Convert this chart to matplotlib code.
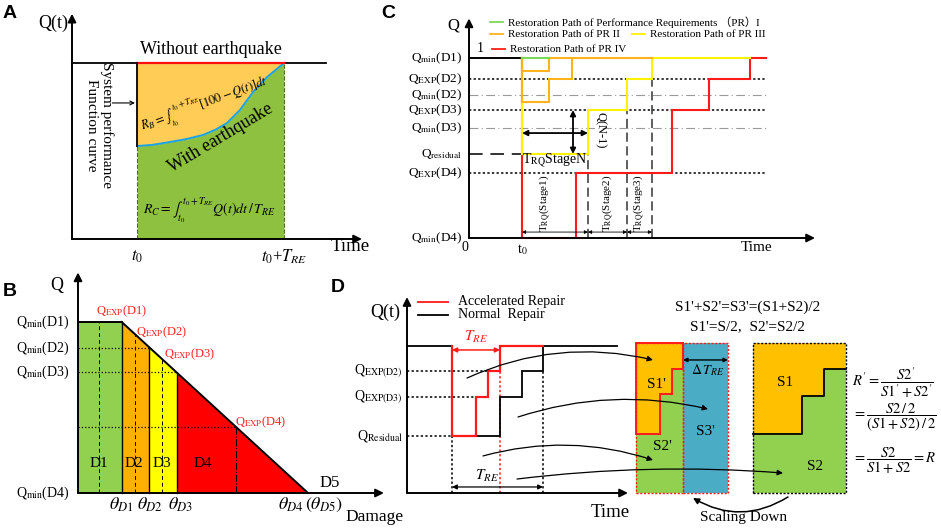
import numpy as np
import matplotlib
matplotlib.use("Agg")
import matplotlib.pyplot as plt

plt.rcParams['font.family'] = ['Liberation Serif', 'Noto Sans CJK SC', 'DejaVu Sans']
plt.rcParams['mathtext.fontset'] = 'stix'

W, H = 941, 528

# ---------------- data ----------------
# panel A: performance curve after the earthquake (Q in %)
A_t = [0.307, 0.38, 0.462, 0.54, 0.618, 0.68, 0.731, 0.792, 0.854, 0.92, 1.0]
A_q = [52.8, 53.5, 55.1, 56.8, 59.1, 62.3, 65.9, 73.3, 83.5, 92.0, 100.0]
A_t0, A_tend = 0.307, 1.0

# panel B: damage states
B_theta = [0.19, 0.31, 0.43, 1.0]          # theta_D1 .. theta_D4
B_qmin = [1.0, 0.848, 0.708, 0.0]          # Qmin(D1) .. Qmin(D4)
B_qexp_d4 = 0.386
B_mid = [0.091, 0.248, 0.365]
B_labels = ['D1', 'D2', 'D3', 'D4']
B_label_x = [0.091, 0.243, 0.365, 0.543]
B_colors = ['#92D050', '#FFB000', '#FFFF00', '#FF0000']

# panel C: restoration paths
C_levels = [1.0, 0.883, 0.794, 0.711, 0.611, 0.467, 0.361, 0.0]
C_names = [r'Q$_{\mathrm{min}}$(D1)', r'Q$_{\mathrm{EXP}}$(D2)', r'Q$_{\mathrm{min}}$(D2)',
           r'Q$_{\mathrm{EXP}}$(D3)', r'Q$_{\mathrm{min}}$(D3)', r'Q$_{\mathrm{residual}}$',
           r'Q$_{\mathrm{EXP}}$(D4)', r'Q$_{\mathrm{min}}$(D4)']
C_t0, C_end = 5.3, 29.7
C_stage = [5.3, 11.9, 15.8, 18.3]
red_edges = [5.3, 10.7, 20.3, 24.0, 28.1, 29.7]
red_vals = [0.0, 0.361, 0.711, 0.883, 1.0]
yel_edges = [5.3, 11.9, 15.8, 18.3, 28.1]
yel_vals = [0.467, 0.711, 0.883, 1.0]
org_a_edges = [5.3, 8.0, 10.3]
org_a_vals = [0.928, 1.0]
org_b_edges = [5.3, 8.0, 10.3, 18.3]
org_b_vals = [0.756, 0.883, 1.0]
grn_edges = [5.3, 8.0]
grn_vals = [1.0]

# panel D: accelerated vs normal repair
D_levels = [0.83, 0.653, 0.388]
D_names = [r'Q$_{\mathrm{EXP(D2)}}$', r'Q$_{\mathrm{EXP(D3)}}$', r'Q$_{\mathrm{Residual}}$']
norm_edges = [0, 4.5, 9.3, 11.5, 13.6, 21.0]
norm_vals = [1.0, 0.388, 0.653, 0.83, 1.0]
acc_edges = [4.5, 6.9, 8.1, 9.3, 13.6]
acc_vals = [0.388, 0.653, 0.83, 1.0]
box_l = [22.9, 27.6, 32.1]
box_r = [34.6, 43.9]
box_top = 1.02
s1p_x = [22.9, 27.6, 27.6, 26.5, 26.5, 25.3, 25.3, 22.9]
s1p_y = [1.02, 1.02, 0.844, 0.844, 0.673, 0.673, 0.401, 0.401]
s1_x = [34.6, 43.9, 43.9, 41.7, 41.7, 39.5, 39.5, 34.6]
s1_y = [1.02, 1.02, 0.844, 0.844, 0.662, 0.662, 0.401, 0.401]

fig = plt.figure(figsize=(W / 100, H / 100), dpi=100)


def panel_axes(px0, px1, py_bot, py_top, xlim, ylim):
    ax = fig.add_axes([px0 / W, 1 - py_bot / H, (px1 - px0) / W, (py_bot - py_top) / H])
    ax.set_xlim(*xlim)
    ax.set_ylim(*ylim)
    ax.axis('off')
    return ax


def arrow(ax, x0, y0, x1, y1, style='-|>', lw=1.4, ms=12, color='k', rad=0.0):
    ax.annotate('', xy=(x1, y1), xytext=(x0, y0), annotation_clip=False,
                arrowprops=dict(arrowstyle=style, color=color, lw=lw, mutation_scale=ms,
                                shrinkA=0, shrinkB=0, connectionstyle=f'arc3,rad={rad}'))


def step_path(ax, edges, vals, start, color, lw=1.5):
    xs, ys = [edges[0]], [start]
    for i, v in enumerate(vals):
        xs += [edges[i], edges[i + 1]]
        ys += [v, v]
    ax.plot(xs, ys, color=color, lw=lw, solid_joinstyle='miter')


# ---------------- panel A ----------------
axA = panel_axes(72, 284, 239, 63, (0, 1), (0, 100))
axA.fill_between(A_t, A_q, 100, color='#FFCC55', lw=0)
axA.fill_between(A_t, 0, A_q, color='#8DC13F', lw=0)
axA.plot(A_t, A_q, color='#1AA3E8', lw=1.4)
axA.plot([0, 1.198], [100, 100], color='k', lw=1.3)
axA.plot([A_t0, A_tend], [100, 100], color='#FF1010', lw=1.6)
axA.plot([A_t0, A_t0], [A_q[0], 100], color='k', lw=1.3)
axA.plot([A_t0, A_t0], [0, A_q[0]], color='#4F6B2A', lw=0.8, ls='--')
axA.plot([A_tend, A_tend], [0, 100], color='#4F6B2A', lw=0.8, ls='--')
arrow(axA, 0, 0, 0, 128)
arrow(axA, 0, 0, 1.368, 0)
axA.text(-0.09, 122.7, 'Q(t)', fontsize=13, ha='center', va='center')
axA.text(0.656, 107.4, 'Without earthquake', fontsize=13, ha='center', va='center')
axA.text(0.13, 64.8, 'System performance\nFunction curve', fontsize=11, rotation=270,
         ha='center', va='center', multialignment='center', linespacing=1.15)
arrow(axA, 0.19, 77.3, 0.297, 77.3, style='->', lw=0.8, ms=7)
axA.text(0.625, 76.5, r'$R_B=\int_{t_0}^{t_0+T_{RE}}[100-Q(t)]dt$', fontsize=9,
         rotation=20, ha='center', va='center')
axA.text(0.703, 57.4, 'With earthquake', fontsize=13, rotation=31, ha='center', va='center')
axA.text(0.646, 16.5, r'$R_C=\int_{t_0}^{t_0+T_{RE}}Q(t)dt\,/\,T_{RE}$', fontsize=10,
         ha='center', va='center')
axA.text(A_t0, -10, r'$t_0$', fontsize=12, ha='center', va='center')
axA.text(A_tend, -10, r'$t_0$+$T_{RE}$', fontsize=12, ha='center', va='center')
axA.text(1.311, -4.5, 'Time', fontsize=13.5, ha='center', va='center')

# ---------------- panel B ----------------
axB = panel_axes(78, 308, 493, 322, (0, 1), (0, 1))
line_x = [B_theta[0], B_theta[3]]
line_y = [1.0, 0.0]
axB.fill_between([0, B_theta[0]], 0, 1, color=B_colors[0], lw=0)
for i in range(1, 4):
    xs = [B_theta[i - 1], B_theta[i]]
    ys = np.interp(xs, line_x, line_y)
    axB.fill_between(xs, 0, ys, color=B_colors[i], lw=0)
for i in range(3):
    top = np.interp(B_theta[i], line_x, line_y)
    axB.plot([B_theta[i], B_theta[i]], [0, top], color='k', lw=1.0)
axB.plot([0, B_theta[0]], [1, 1], color='k', lw=1.4)
axB.plot(line_x, line_y, color='k', lw=1.4)
axB.plot([0, B_theta[1]], [B_qmin[1]] * 2, color='k', lw=0.9, ls=':')
axB.plot([0, B_theta[2]], [B_qmin[2]] * 2, color='k', lw=0.9, ls=':')
x_d4 = np.interp(B_qexp_d4, line_y[::-1], line_x[::-1])
axB.plot([0, x_d4], [B_qexp_d4] * 2, color='k', lw=0.9, ls=':')
for xm in B_mid:
    axB.plot([xm, xm], [0, np.interp(xm, line_x, line_y)], color='k', lw=0.7, ls=(0, (4, 3)))
axB.plot([x_d4, x_d4], [0, B_qexp_d4], color='k', lw=0.8, ls='-.')
arrow(axB, 0, 0, 0, 1.29)
arrow(axB, 0, 0, 1.33, 0)
for lab, lx in zip(B_labels, B_label_x):
    axB.text(lx, 0.175, lab, fontsize=11, ha='center', va='center')
axB.text(1.096, 0.058, 'D5', fontsize=12, ha='center', va='center')
for q, i in zip(B_qmin, range(4)):
    axB.text(-0.035, q, r'Q$_{\mathrm{min}}$(D%d)' % (i + 1), fontsize=10, ha='right', va='center')
axB.text(-0.091, 1.216, 'Q', fontsize=13, ha='center', va='center')
for lab, lx in zip(['D1', 'D2', 'D3'], [0.187, 0.313, 0.448]):
    axB.text(lx, -0.07, r'$\theta_{%s}$' % lab, fontsize=13, ha='center', va='center')
axB.text(1.009, -0.07, r'$\theta_{D4}\,(\theta_{D5})$', fontsize=13, ha='center', va='center')
axB.text(1.291, -0.14, 'Damage', fontsize=12.5, ha='center', va='center')
for lab, lx, ly in zip(['D1', 'D2', 'D3', 'D4'], [0.19, 0.365, 0.487, 0.796],
                       [1.06, 0.94, 0.81, 0.415]):
    axB.text(lx, ly, r'Q$_{\mathrm{EXP}}$(%s)' % lab, fontsize=9, color='#FF2020',
             ha='center', va='center')

# ---------------- panel C ----------------
axC = panel_axes(469, 769, 238, 58, (0, 30), (0, 1))
for lv in [C_levels[1], C_levels[3], C_levels[6]]:
    axC.plot([0, C_end], [lv, lv], color='k', lw=1.1, ls=(0, (1.5, 1.5)))
for lv in [C_levels[2], C_levels[4]]:
    axC.plot([0, C_end], [lv, lv], color='#9A9A9A', lw=0.8, ls=(0, (8, 3, 1, 3)))
axC.plot([0, C_t0], [1, 1], color='k', lw=1.4)
axC.plot([0, C_t0], [C_levels[5]] * 2, color='#333333', lw=1.4, ls=(0, (7, 4)))
for xs, top in zip(C_stage[1:], [C_levels[5], C_levels[3], C_levels[1]]):
    axC.plot([xs, xs], [0, top], color='#333333', lw=1.1, ls=(0, (6, 3)))
step_path(axC, red_edges, red_vals, 1.0, '#FF1A1A')
step_path(axC, yel_edges, yel_vals, 1.0, '#FFF200')
step_path(axC, org_a_edges, org_a_vals, 1.0, '#FFB21A')
step_path(axC, org_b_edges, org_b_vals, 1.0, '#FFB21A')
step_path(axC, grn_edges, grn_vals, 1.0, '#7ED957')
arrow(axC, 0, 0, 0, 1.22)
arrow(axC, 0, 0, 34.6, 0)
arrow(axC, C_t0, 0.583, C_stage[1], 0.583, style='<|-|>', lw=1.3, ms=8)
arrow(axC, 10.4, C_levels[3], 10.4, C_levels[5], style='<|-|>', lw=1.3, ms=8)
axC.text(13.1, 0.6, 'Q(N-1)', fontsize=9, rotation=270, ha='center', va='center')
axC.text(8.6, 0.428, r'T$_{\mathrm{RQ}}$StageN', fontsize=10, ha='center', va='center')
for i in range(3):
    arrow(axC, C_stage[i], 0.033, C_stage[i + 1], 0.033, style='<|-|>', lw=0.6, ms=5)
for xs, i in zip([7.6, 13.9, 17.0], range(3)):
    axC.text(xs, 0.195, r'T$_{\mathrm{RQ}}$(Stage%d)' % (i + 1), fontsize=8, rotation=90,
             ha='center', va='center')
axC.text(1.1, 1.055, '1', fontsize=10, ha='center', va='center')
for lv, nm in zip(C_levels, C_names):
    axC.text(-0.7, lv, nm, fontsize=9.5, ha='right', va='center')
axC.text(-1.6, 1.183, 'Q', fontsize=12, ha='center', va='center')
axC.text(-0.4, -0.055, '0', fontsize=10, ha='center', va='center')
axC.text(C_t0, -0.065, r't$_0$', fontsize=10, ha='center', va='center')
axC.text(28.8, -0.055, 'Time', fontsize=11, ha='center', va='center')
# legend
leg = [('#7ED957', 2.1, 1.20, 'Restoration Path of Performance Requirements （PR）I'),
       ('#FFB21A', 2.1, 1.133, 'Restoration Path of PR II'),
       ('#FFF200', 16.3, 1.133, 'Restoration Path of PR III'),
       ('#FF1A1A', 2.3, 1.05, 'Restoration Path of PR IV')]
for col, lx, ly, txt in leg:
    axC.plot([lx, lx + 1.3], [ly, ly], color=col, lw=1.3)
    axC.text(lx + 1.8, ly, txt, fontsize=8, ha='left', va='center')

# ---------------- panel D ----------------
axD = panel_axes(407, 617, 493, 346, (0, 21), (0, 1))
axD.plot([0, 8.1], [D_levels[0]] * 2, color='k', lw=1.1, ls=(0, (1.5, 1.5)))
axD.plot([0, 6.9], [D_levels[1]] * 2, color='k', lw=1.1, ls=(0, (1.5, 1.5)))
axD.plot([0, 4.5], [D_levels[2]] * 2, color='k', lw=1.1, ls=(0, (1.5, 1.5)))
axD.plot([4.5, 4.5], [0, D_levels[2]], color='k', lw=1.1, ls=(0, (1.5, 1.5)))
axD.plot([13.6, 13.6], [0, D_levels[0]], color='k', lw=1.1, ls=(0, (1.5, 1.5)))
axD.plot([9.3, 9.3], [0, 1], color='#FF1A1A', lw=1.1, ls=(0, (1.5, 1.5)))
step_path(axD, norm_edges, norm_vals, 1.0, 'k', lw=1.3)
step_path(axD, acc_edges, acc_vals, 1.0, '#FF1A1A', lw=1.6)
arrow(axD, 0, 0, 0, 1.333)
arrow(axD, 0, 0, 22.1, 0)
arrow(axD, 4.5, 0.973, 9.3, 0.973, style='<|-|>', lw=1.1, ms=7, color='#FF1A1A')
axD.text(6.9, 1.061, r'$T_{RE}$', fontsize=11, color='#FF1A1A', ha='center', va='center')
arrow(axD, 4.5, 0.041, 13.6, 0.041, style='<|-|>', lw=0.9, ms=7)
axD.text(8.0, 0.116, r'$T_{RE}$', fontsize=11, ha='center', va='center')
for lv, nm in zip(D_levels, D_names):
    axD.text(-0.4, lv, nm, fontsize=10, ha='right', va='center')
axD.text(-2.2, 1.231, 'Q(t)', fontsize=13, ha='center', va='center')
axD.text(20.3, -0.136, 'Time', fontsize=13.5, ha='center', va='center')
axD.plot([1.1, 4.1], [1.30, 1.30], color='#FF1A1A', lw=1.3)
axD.text(5.1, 1.30, 'Accelerated Repair', fontsize=10, ha='left', va='center')
axD.plot([1.1, 4.1], [1.211, 1.211], color='k', lw=1.3)
axD.text(5.1, 1.211, 'Normal  Repair', fontsize=10, ha='left', va='center')

# scaled areas
axD.fill_between(box_l[:2], 0, box_top, color='#92D050', lw=0)
axD.fill_between(box_l[1:], 0, box_top, color='#4BACC6', lw=0)
axD.fill(s1p_x, s1p_y, facecolor='#FFC000', edgecolor='#FF1A1A', lw=1.4)
axD.fill_between(box_r, 0, box_top, color='#92D050', lw=0)
axD.fill(s1_x, s1_y, facecolor='#FFC000', edgecolor='none')
axD.plot(s1_x[2:], s1_y[2:], color='k', lw=1.3)
for x0, x1 in [(box_l[0], box_l[1]), (box_l[1], box_l[2])]:
    axD.plot([x0, x1, x1, x0, x0], [0, 0, box_top, box_top, 0], color='#FF1A1A', lw=1.0,
             ls=(0, (1.5, 1.2)))
axD.plot([box_r[0], box_r[1], box_r[1], box_r[0], box_r[0]], [0, 0, box_top, box_top, 0],
         color='k', lw=1.0, ls=(0, (1.5, 1.2)))
arrow(axD, box_l[1], 0.905, box_l[2], 0.905, style='<|-|>', lw=1.0, ms=6)
axD.text(30.1, 0.837, r'$\Delta\,T_{RE}$', fontsize=10, ha='center', va='center')
for txt, tx, ty in [("S1'", 24.9, 0.735), ("S2'", 25.5, 0.313), ("S3'", 29.8, 0.415),
                    ('S1', 37.8, 0.755), ('S2', 40.8, 0.177)]:
    axD.text(tx, ty, txt, fontsize=11, ha='center', va='center')
axD.text(34.1, 1.265, "S1'+S2'=S3'=(S1+S2)/2", fontsize=11, ha='center', va='center')
axD.text(34.1, 1.129, "S1'=S/2,  S2'=S2/2", fontsize=11, ha='center', va='center')
axD.text(44.5, 0.748, r"$R'=\dfrac{S2'}{S1'+S2'}$", fontsize=10.5, ha='left', va='center')
axD.text(44.5, 0.517, r"$=\dfrac{S2\,/\,2}{(S1+S2)\,/\,2}$", fontsize=10.5, ha='left', va='center')
axD.text(44.5, 0.218, r"$=\dfrac{S2}{S1+S2}=R$", fontsize=10.5, ha='left', va='center')
arrow(axD, 6.0, 0.782, 24.6, 0.905, lw=0.9, ms=8, rad=-0.17)
arrow(axD, 11.1, 0.517, 30.1, 0.571, lw=0.9, ms=8, rad=-0.14)
arrow(axD, 7.6, 0.252, 24.6, 0.224, lw=0.9, ms=8, rad=-0.15)
arrow(axD, 11.0, 0.095, 37.6, 0.136, lw=0.9, ms=8, rad=-0.05)
arrow(axD, 38.1, -0.027, 28.6, -0.034, lw=1.1, ms=9, rad=-0.3)
axD.text(33.7, -0.17, 'Scaling Down', fontsize=11, ha='center', va='center')

for ax in [axA, axB, axC, axD]:
    for art in ax.get_children():
        art.set_clip_on(False)

for lab, px, py in [('A', 10, 13), ('B', 10, 292), ('C', 388, 13), ('D', 338, 287)]:
    fig.text(px / W, 1 - py / H, lab, fontsize=14, fontweight='bold', family='Liberation Sans',
             ha='center', va='center')

fig.savefig('out.png', dpi=100)
